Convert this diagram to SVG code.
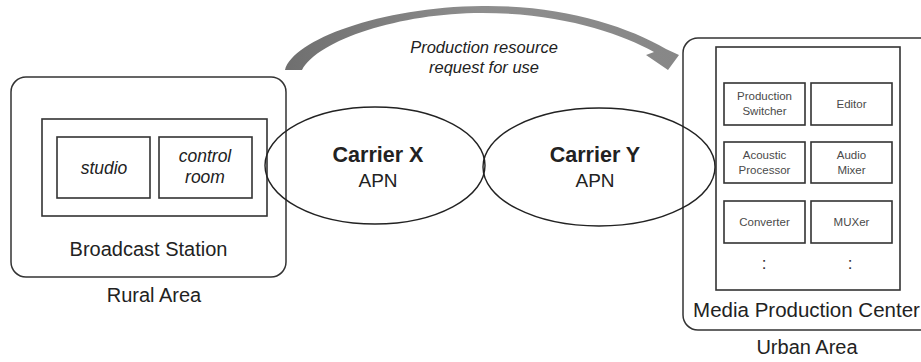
<svg xmlns="http://www.w3.org/2000/svg" width="921" height="362" viewBox="0 0 921 362">
  <defs>
    <linearGradient id="arrowFill" x1="285" y1="0" x2="680" y2="0" gradientUnits="userSpaceOnUse">
      <stop offset="0" stop-color="#6f6f6f"/>
      <stop offset="0.5" stop-color="#8e8e8e"/>
      <stop offset="1" stop-color="#878787"/>
    </linearGradient>
  </defs>
  <style>
    .txt { font-family: "Liberation Sans", Arial, sans-serif; fill: #222; text-anchor: middle; }
    .it { font-style: italic; }
    .frame { fill: #fff; stroke: #333; stroke-width: 1.5; }
    .box { fill: #fff; stroke: #333; stroke-width: 1.6; }
    .cloud { fill: none; stroke: #222; stroke-width: 1.4; }
    .small { font-family: "Liberation Sans", Arial, sans-serif; font-size: 11.5px; fill: #4a4a4a; text-anchor: middle; }
    .dots { font-family: "Liberation Sans", Arial, sans-serif; font-size: 17px; fill: #333; text-anchor: middle; }
  </style>
  <rect width="921" height="362" fill="#fff"/>

  <!-- rural side: broadcast station -->
  <g id="broadcast-station">
    <rect class="frame" x="11" y="77" width="275" height="200" rx="15"/>
    <rect class="box" x="42" y="119" width="225" height="97"/>
    <text class="txt" x="148.5" y="256" font-size="20">Broadcast Station</text>
  </g>
  <g id="studio">
    <rect class="box" x="57" y="137" width="93" height="61"/>
    <text class="txt it" x="104" y="174" font-size="17.5">studio</text>
  </g>
  <g id="control-room">
    <rect class="box" x="159" y="137" width="93" height="61"/>
    <text class="txt it" x="205" y="162" font-size="17.5">control</text>
    <text class="txt it" x="205" y="183" font-size="17.5">room</text>
  </g>
  <text id="rural-area" class="txt" x="154" y="302" font-size="20">Rural Area</text>

  <!-- urban side: media production center -->
  <g id="media-production-center">
    <rect class="frame" x="683" y="38" width="260" height="292" rx="15"/>
    <rect class="box" x="716" y="47" width="184" height="243"/>
    <text class="txt" x="806.5" y="317" font-size="20.5">Media Production Center</text>
  </g>
  <g id="production-switcher">
    <rect class="box" x="724" y="83" width="81" height="42"/>
    <text class="small" x="764.5" y="100">Production</text>
    <text class="small" x="764.5" y="115">Switcher</text>
  </g>
  <g id="editor">
    <rect class="box" x="811" y="83" width="81" height="42"/>
    <text class="small" x="851.5" y="108">Editor</text>
  </g>
  <g id="acoustic-processor">
    <rect class="box" x="724" y="142" width="81" height="41"/>
    <text class="small" x="764.5" y="159">Acoustic</text>
    <text class="small" x="764.5" y="174">Processor</text>
  </g>
  <g id="audio-mixer">
    <rect class="box" x="811" y="142" width="81" height="41"/>
    <text class="small" x="851.5" y="159">Audio</text>
    <text class="small" x="851.5" y="174">Mixer</text>
  </g>
  <g id="converter">
    <rect class="box" x="724" y="201" width="81" height="42"/>
    <text class="small" x="764.5" y="226">Converter</text>
  </g>
  <g id="muxer">
    <rect class="box" x="811" y="201" width="81" height="42"/>
    <text class="small" x="851.5" y="226">MUXer</text>
  </g>
  <text class="dots" x="764" y="269">:</text>
  <text class="dots" x="850" y="269">:</text>
  <text id="urban-area" class="txt" x="807" y="354" font-size="20">Urban Area</text>

  <!-- carrier networks -->
  <g id="carrier-x">
    <ellipse class="cloud" cx="375" cy="165.5" rx="110" ry="58.5"/>
    <text class="txt" x="378" y="162" font-size="21.5" font-weight="bold">Carrier X</text>
    <text class="txt" x="378" y="187" font-size="19">APN</text>
  </g>
  <g id="carrier-y">
    <ellipse class="cloud" cx="599" cy="167" rx="116" ry="59"/>
    <text class="txt" x="595" y="162" font-size="21.5" font-weight="bold">Carrier Y</text>
    <text class="txt" x="595" y="187" font-size="19">APN</text>
  </g>

  <!-- request arrow over the carriers -->
  <g id="connectors">
    <path fill="url(#arrowFill)" d="M285,70 C293,40 380,7 482,6 C560,5 625,25 666,49 L679,55 L668,70 L646,55 L654,52 C620,33 560,13 482,13 C400,13 318,40 302,70 Z"/>
    <text class="txt it" x="484" y="53" font-size="16.5">Production resource</text>
    <text class="txt it" x="484" y="73" font-size="16.5">request for use</text>
  </g>
</svg>
